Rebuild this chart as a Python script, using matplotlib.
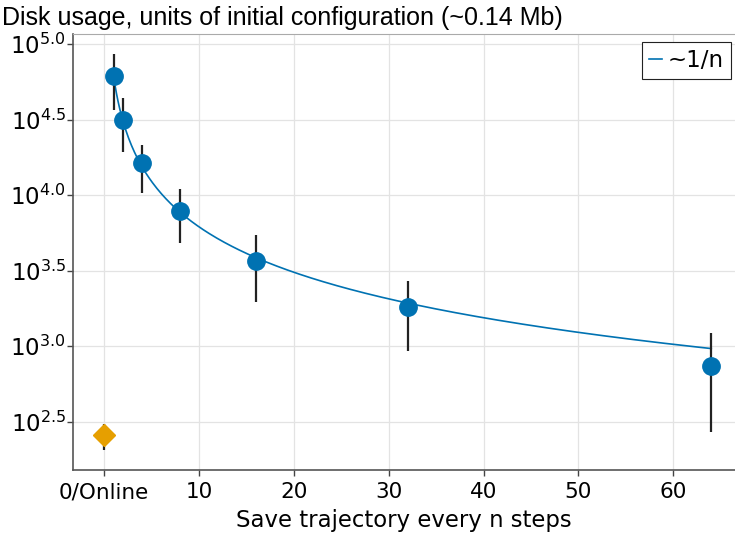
import numpy as np
import matplotlib
matplotlib.use("Agg")
import matplotlib.pyplot as plt

# data (log10 of disk usage)
n_steps = [1, 2, 4, 8, 16, 32, 64]
log_mean = [4.788, 4.50, 4.212, 3.894, 3.563, 3.258, 2.868]
log_hi = [4.934, 4.642, 4.331, 4.040, 3.735, 3.430, 3.086]
log_lo = [4.563, 4.285, 4.013, 3.682, 3.291, 2.967, 2.430]

online_x = [0]
online_mean = [2.411]
online_hi = [2.487]
online_lo = [2.315]

fit_coef = 10**4.79  # ~1/n fit
xticks = [0, 10, 20, 30, 40, 50, 60]
xticklabels = ["0/Online", "10", "20", "30", "40", "50", "60"]
yticks_log = [2.5, 3.0, 3.5, 4.0, 4.5, 5.0]

blue = "#0072B2"
orange = "#E69F00"

fig = plt.figure(figsize=(7.35, 5.35), dpi=100)
ax = fig.add_axes([73/735, 65/535, 662/735, 436/535])

mean = 10**np.array(log_mean)
yerr = [mean - 10**np.array(log_lo), 10**np.array(log_hi) - mean]
om = 10**np.array(online_mean)
oerr = [om - 10**np.array(online_lo), 10**np.array(online_hi) - om]

nn = np.linspace(1, 64, 400)
ax.plot(nn, fit_coef/nn, color=blue, lw=1.2, label="~1/n", zorder=2)
ax.errorbar(n_steps, mean, yerr=yerr, fmt="none", ecolor="#222222", elinewidth=1.6, zorder=3)
ax.plot(n_steps, mean, "o", color=blue, ms=12.5, zorder=4)
ax.errorbar(online_x, om, yerr=oerr, fmt="none", ecolor="#222222", elinewidth=1.6, zorder=3)
ax.plot(online_x, om, "D", color=orange, ms=11, zorder=4)

ax.set_yscale("log")
ax.set_xlim(-3.27, 66.5)
ax.set_ylim(10**2.18, 10**5.066)
ax.set_yticks([10**v for v in yticks_log])
ax.set_yticklabels([r"$10^{%.1f}$" % v for v in yticks_log])
ax.yaxis.set_minor_locator(matplotlib.ticker.NullLocator())
ax.set_xticks(xticks)
ax.set_xticklabels(xticklabels)
ax.tick_params(labelsize=15.5, length=4, width=1, color="#444444")
ax.tick_params(axis="x", pad=5)
ax.tick_params(axis="y", pad=1, labelsize=16.5)
ax.grid(True, color="#e3e3e3", lw=0.9)
ax.set_axisbelow(True)

for s in ["left", "bottom"]:
    ax.spines[s].set_color("#555555")
    ax.spines[s].set_linewidth(1.2)
ax.spines["top"].set_color("#aaaaaa")
ax.spines["right"].set_visible(False)

ax.set_xlabel("Save trajectory every n steps", fontsize=16.4, labelpad=5)
fig.text(2/735, 1 - 18/535, "Disk usage, units of initial configuration (~0.14 Mb)",
         fontsize=18, family="Liberation Sans", va="center", ha="left")

leg = ax.legend(loc="upper right", fontsize=16.5, handlelength=0.6, handletextpad=0.25,
                fancybox=False, framealpha=1, borderpad=0.3, borderaxespad=0,
                bbox_to_anchor=(0.994, 0.982))
leg.get_frame().set_edgecolor("#222222")
leg.get_frame().set_linewidth(0.8)

fig.savefig("out.png", dpi=100)
